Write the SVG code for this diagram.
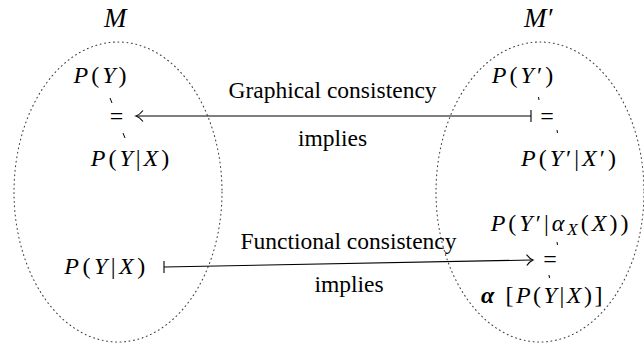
<svg xmlns="http://www.w3.org/2000/svg" width="644" height="350" viewBox="0 0 644 350">
<rect width="644" height="350" fill="#fff"/>
<g id="modelM">
<ellipse cx="118" cy="192" rx="104" ry="150" fill="none" stroke="#444" stroke-width="1.1" stroke-dasharray="0.9 3.6" stroke-linecap="round"/>
<text x="104" y="27" font-family="Liberation Serif" font-size="27" font-style="italic">M</text>
</g>
<g id="modelMprime">
<ellipse cx="540" cy="192" rx="104" ry="150" fill="none" stroke="#444" stroke-width="1.1" stroke-dasharray="0.9 3.6" stroke-linecap="round"/>
<text x="524" y="27" font-family="Liberation Serif" font-size="27" font-style="italic">M′</text>
</g>
<g id="left-top">
<text x="101.5" y="83" font-family="Liberation Serif" font-size="24" text-anchor="middle" letter-spacing="3"><tspan font-style="italic">P</tspan>(<tspan font-style="italic">Y</tspan>)</text>
<text x="116.5" y="124" font-family="Liberation Serif" font-size="24" text-anchor="middle">=</text>
<text x="131.5" y="166" font-family="Liberation Serif" font-size="24" text-anchor="middle" letter-spacing="3"><tspan font-style="italic">P</tspan>(<tspan font-style="italic">Y</tspan>|<tspan font-style="italic">X</tspan>)</text>
<line x1="110" y1="98" x2="112" y2="103" stroke="#000"/>
<line x1="123" y1="133" x2="125" y2="138" stroke="#000"/>
</g>
<g id="right-top">
<text x="524" y="83" font-family="Liberation Serif" font-size="24" text-anchor="middle" letter-spacing="3"><tspan font-style="italic">P</tspan>(<tspan font-style="italic">Y</tspan>′)</text>
<text x="547" y="124" font-family="Liberation Serif" font-size="24" text-anchor="middle">=</text>
<text x="570" y="166" font-family="Liberation Serif" font-size="24" text-anchor="middle" letter-spacing="3"><tspan font-style="italic">P</tspan>(<tspan font-style="italic">Y</tspan>′|<tspan font-style="italic">X</tspan>′)</text>
<line x1="538.5" y1="97" x2="539" y2="100" stroke="#000"/>
<line x1="557" y1="130" x2="557.5" y2="133" stroke="#000"/>
</g>
<g id="left-bottom">
<text x="106.5" y="274" font-family="Liberation Serif" font-size="24" text-anchor="middle" letter-spacing="3.5"><tspan font-style="italic">P</tspan>(<tspan font-style="italic">Y</tspan>|<tspan font-style="italic">X</tspan>)</text>
</g>
<g id="right-bottom">
<text x="561" y="231" font-family="Liberation Serif" font-size="24" text-anchor="middle" letter-spacing="3"><tspan font-style="italic">P</tspan>(<tspan font-style="italic">Y</tspan>′|<tspan font-style="italic">α</tspan><tspan font-style="italic" font-size="17" dy="4">X</tspan><tspan dy="-4">(</tspan><tspan font-style="italic">X</tspan>))</text>
<text x="550" y="267" font-family="Liberation Serif" font-size="24" text-anchor="middle">=</text>
<text x="543" y="303" font-family="Liberation Serif" font-size="24" text-anchor="middle" letter-spacing="2.5"><tspan font-style="italic" font-weight="bold">α</tspan> [<tspan font-style="italic">P</tspan>(<tspan font-style="italic">Y</tspan>|<tspan font-style="italic">X</tspan>)]</text>
<line x1="557" y1="242" x2="557.5" y2="245" stroke="#000"/>
<line x1="549" y1="275" x2="549.5" y2="278" stroke="#000"/>
</g>
<g id="connectors" fill="none" stroke="#000" stroke-width="1.1">
<line x1="531" y1="116" x2="137" y2="116"/>
<line x1="531" y1="110" x2="531" y2="122"/>
<path d="M143,110.5 Q139.5,115 136,116 Q139.5,117 143,121.5"/>
<line x1="164" y1="267" x2="532" y2="260"/>
<line x1="164" y1="261" x2="164" y2="273"/>
<path d="M526.5,254.6 Q530,259 533,260 Q530,261.2 526.8,265.5"/>
</g>
<g id="labels">
<text x="332.5" y="98" font-family="Liberation Serif" font-size="23.5" text-anchor="middle">Graphical consistency</text>
<text x="332.5" y="146" font-family="Liberation Serif" font-size="23.5" text-anchor="middle">implies</text>
<text x="348.5" y="249" font-family="Liberation Serif" font-size="23.5" text-anchor="middle">Functional consistency</text>
<text x="349" y="292" font-family="Liberation Serif" font-size="23.5" text-anchor="middle">implies</text>
</g>
</svg>
